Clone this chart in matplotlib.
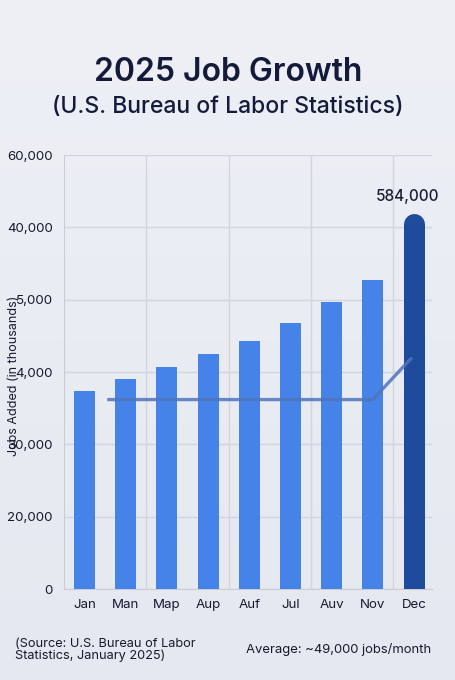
import numpy as np
import matplotlib.pyplot as plt

plt.rcParams['font.family'] = ['Inter', 'DejaVu Sans']

# data (bar heights in tick-step units: the axis labels are not a linear scale)
months = ['Jan', 'Man', 'Map', 'Aup', 'Auf', 'Jul', 'Auv', 'Nov', 'Dec']
jobs = [2.74, 2.91, 3.07, 3.25, 3.43, 3.68, 3.97, 4.28, 5.20]
ytick_labels = ['0', '20,000', '30,000', '4,000', '5,000', '40,000', '60,000']
avg_x = [0.55, 7.0, 7.95]
avg_y = [2.62, 2.62, 3.20]
peak_label = '584,000'

fig = plt.figure(figsize=(4.56, 6.8), dpi=100)

# soft background gradient
bg = fig.add_axes([0, 0, 1, 1], zorder=-10)
grad = np.linspace(0, 1, 256).reshape(-1, 1)
bg.imshow(grad, aspect='auto', cmap=plt.matplotlib.colors.LinearSegmentedColormap.from_list(
    'bg', ['#eef0f6', '#e6e8f1']), extent=[0, 1, 0, 1])
bg.axis('off')

ax = fig.add_axes([0.1404, 0.1338, 0.807, 0.638])
ax.set_facecolor('none')

x = np.arange(len(months))
bar_w = 0.51
ax.bar(x[:-1], jobs[:-1], width=bar_w, color='#4683e8', zorder=3)

# December bar with rounded top
px_per_unit = 0.638 * 680 / 6
r = bar_w * 0.807 * 456 / 8.94 / 2 / px_per_unit
lw_pt = bar_w * 0.807 * 456 / 8.94 * 72 / 100
ax.plot([x[-1], x[-1]], [0, jobs[-1] - r], color='#1f4b9c', lw=lw_pt,
        solid_capstyle='round', zorder=3)
ax.text(x[-1] - 0.15, 5.43, peak_label, ha='center', va='center',
        fontsize=11, color='#1a1f33', fontweight='medium')

# average trend line
ax.plot(avg_x, avg_y, color='#4f74bd', lw=2.4, alpha=0.85, zorder=4,
        solid_capstyle='butt')

ax.set_xlim(-0.5, 8.44)
ax.set_ylim(0, 6)
ax.set_yticks(range(len(ytick_labels)))
ax.set_yticklabels(ytick_labels)
ax.set_xticks(x)
ax.set_xticklabels(months)
ax.tick_params(axis='both', length=0, labelsize=9.6, colors='#161a2c')
ax.tick_params(axis='y', pad=8)
ax.tick_params(axis='x', pad=7)

ax.grid(axis='y', color='#d3d5de', lw=1, zorder=0)
for gx in [1.5, 3.5, 5.5, 7.5]:
    ax.axvline(gx, color='#d3d5de', lw=1, zorder=0)

for s in ['top', 'right']:
    ax.spines[s].set_visible(False)
ax.spines['left'].set_color('#c9cbd5')
ax.spines['bottom'].set_color('#c9cbd5')

fig.text(0.031, 0.448, 'Jobs Added (in thousands)', rotation=90, ha='center',
         va='center', fontsize=9, color='#161a2c')

fig.text(0.5, 0.893, '2025 Job Growth', ha='center', va='center',
         fontsize=23, fontweight='semibold', color='#141a3a')
fig.text(0.5, 0.843, '(U.S. Bureau of Labor Statistics)', ha='center',
         va='center', fontsize=16.5, fontweight='medium', color='#141a3a')

fig.text(0.033, 0.044, '(Source: U.S. Bureau of Labor\nStatistics, January 2025)',
         ha='left', va='center', fontsize=9.2, color='#161a2c', linespacing=1.0)
fig.text(0.946, 0.045, 'Average: ~49,000 jobs/month', ha='right', va='center',
         fontsize=9.4, color='#161a2c')

fig.savefig('out.png', dpi=100)
